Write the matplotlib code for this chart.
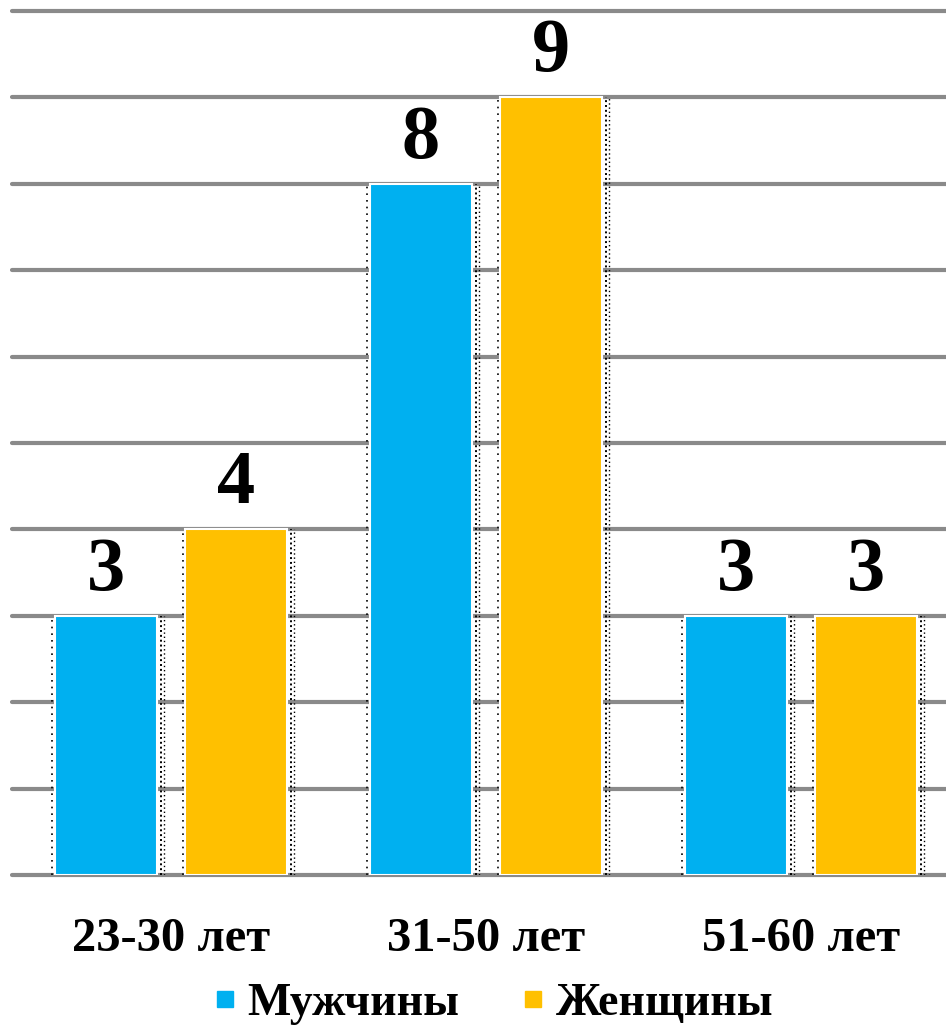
import matplotlib
matplotlib.use('Agg')
import matplotlib.pyplot as plt
from matplotlib.lines import Line2D
import numpy as np

# age groups and counts per group
categories = ['23-30 лет', '31-50 лет', '51-60 лет']
series_names = ['Мужчины', 'Женщины']
men = [3, 8, 3]
women = [4, 9, 3]

colors = ['#00B0F0', '#FFC000']
grid_color = '#8a8a8a'
serif = ['Liberation Serif', 'DejaVu Serif']

fig = plt.figure(figsize=(9.46, 10.34), dpi=100)
ax = fig.add_axes([0.0127, 0.1538, 0.9873, 0.8356])

x = np.arange(len(categories))
width = 0.324
offset = 0.207

for vals, shift, color in zip([men, women], [-offset, offset], colors):
  pos = x + shift
  ax.bar(pos, vals, width, color=color, edgecolor='white', linewidth=1.5, zorder=3)
  # thin dotted shadow lines along bar sides
  ax.vlines(pos - width / 2 - 0.008, 0, vals, colors='black', linestyles=(0, (1, 3)),
            linewidth=1.2, zorder=2)
  ax.vlines(pos + width / 2 + 0.012, 0, vals, colors='black', linestyles=(0, (1, 1.5)),
            linewidth=1.4, zorder=2)
  ax.vlines(pos + width / 2 + 0.022, 0, vals, colors='black', linestyles=(0, (1, 2)),
            linewidth=1.0, zorder=2)
  for px, v in zip(pos, vals):
    ax.text(px, v + 0.3, str(v), ha='center', va='baseline', fontsize=55,
            fontweight='bold', family=serif, zorder=4)

ax.set_ylim(0, 10)
ax.set_xlim(-0.505, 2.46)
ax.set_yticks(np.arange(0, 11))
ax.yaxis.grid(True, color=grid_color, linewidth=3, zorder=1)
for line in ax.get_ygridlines():
  line.set_solid_capstyle('round')
  line.set_clip_on(False)
ax.tick_params(axis='y', left=False, labelleft=False)
ax.tick_params(axis='x', bottom=False, pad=27)
ax.set_xticks(x)
ax.set_xticklabels(categories, fontsize=35, fontweight='bold', family=serif)
for spine in ax.spines.values():
  spine.set_visible(False)

handles = [Line2D([], [], marker='s', linestyle='none', markersize=11,
                  markerfacecolor=c, markeredgecolor=c) for c in colors]
fig.legend(handles, series_names, loc='center', bbox_to_anchor=(0.518, 0.029),
           ncol=2, frameon=False, handletextpad=0.1, columnspacing=1.2,
           handlelength=0.8, prop={'family': serif, 'weight': 'bold', 'size': 33})

fig.savefig('out.png', dpi=100)
